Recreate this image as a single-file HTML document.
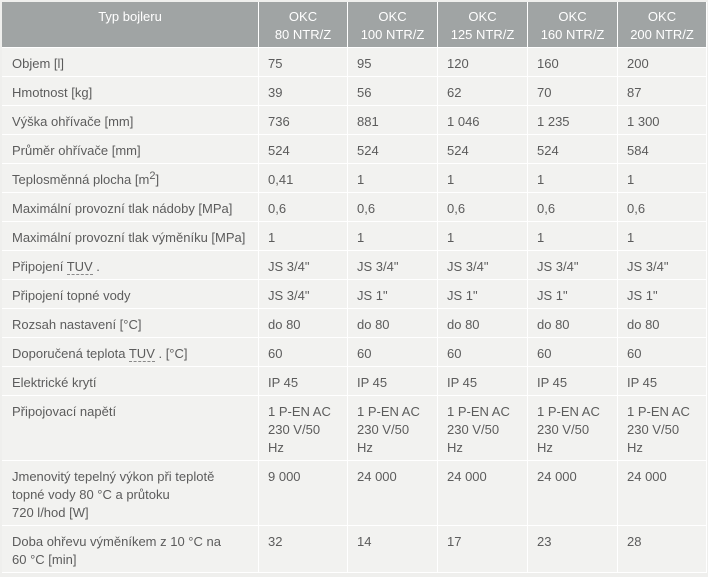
<!DOCTYPE html>
<html>
<head>
<meta charset="utf-8">
<style>
  html, body { margin:0; padding:0; }
  body { width:708px; height:577px; background:#efefed; overflow:hidden; position:relative;
         font-family:"Liberation Sans", Arial, sans-serif; font-size:13px; color:#5c5c5c; }
  table { position:absolute; left:2px; top:2px; border-collapse:separate; border-spacing:0; table-layout:fixed; width:705px; }
  td, th { border-right:1px solid #ffffff; border-bottom:1px solid #ffffff; line-height:18px; vertical-align:top;
           white-space:nowrap; overflow:hidden; box-sizing:border-box; }
  th { background:#a0a4a4; color:#ffffff; font-weight:normal; text-align:center; height:46px; padding:6px 0 0 0; }
  td { background:#f2f2f0; padding:7px 0 0 9px; height:29px; }
  td.l { padding-left:10px; }
  tr.r3 td { height:65px; }
  tr.r2 td { height:47px; }
  .abbr { border-bottom:1px dashed #8a8a8a; }
  sup { font-size:11px; line-height:0; vertical-align:5px; }
</style>
</head>
<body>
<table>
  <colgroup>
    <col style="width:257px"><col style="width:89px"><col style="width:90px"><col style="width:90px"><col style="width:90px"><col style="width:89px">
  </colgroup>
  <tr>
    <th>Typ bojleru</th>
    <th>OKC<br>80 NTR/Z</th>
    <th>OKC<br>100 NTR/Z</th>
    <th>OKC<br>125 NTR/Z</th>
    <th>OKC<br>160 NTR/Z</th>
    <th>OKC<br>200 NTR/Z</th>
  </tr>
  <tr><td class="l">Objem [l]</td><td>75</td><td>95</td><td>120</td><td>160</td><td>200</td></tr>
  <tr><td class="l">Hmotnost [kg]</td><td>39</td><td>56</td><td>62</td><td>70</td><td>87</td></tr>
  <tr><td class="l">Výška ohřívače [mm]</td><td>736</td><td>881</td><td>1 046</td><td>1 235</td><td>1 300</td></tr>
  <tr><td class="l">Průměr ohřívače [mm]</td><td>524</td><td>524</td><td>524</td><td>524</td><td>584</td></tr>
  <tr><td class="l">Teplosměnná plocha [m<sup>2</sup>]</td><td>0,41</td><td>1</td><td>1</td><td>1</td><td>1</td></tr>
  <tr><td class="l">Maximální provozní tlak nádoby [MPa]</td><td>0,6</td><td>0,6</td><td>0,6</td><td>0,6</td><td>0,6</td></tr>
  <tr><td class="l">Maximální provozní tlak výměníku [MPa]</td><td>1</td><td>1</td><td>1</td><td>1</td><td>1</td></tr>
  <tr><td class="l">Připojení <span class="abbr">TUV</span> .</td><td>JS 3/4"</td><td>JS 3/4"</td><td>JS 3/4"</td><td>JS 3/4"</td><td>JS 3/4"</td></tr>
  <tr><td class="l">Připojení topné vody</td><td>JS 3/4"</td><td>JS 1"</td><td>JS 1"</td><td>JS 1"</td><td>JS 1"</td></tr>
  <tr><td class="l">Rozsah nastavení [°C]</td><td>do 80</td><td>do 80</td><td>do 80</td><td>do 80</td><td>do 80</td></tr>
  <tr><td class="l">Doporučená teplota <span class="abbr">TUV</span> . [°C]</td><td>60</td><td>60</td><td>60</td><td>60</td><td>60</td></tr>
  <tr><td class="l">Elektrické krytí</td><td>IP 45</td><td>IP 45</td><td>IP 45</td><td>IP 45</td><td>IP 45</td></tr>
  <tr class="r3"><td class="l">Připojovací napětí</td>
    <td>1 P-EN AC<br>230 V/50<br>Hz</td><td>1 P-EN AC<br>230 V/50<br>Hz</td><td>1 P-EN AC<br>230 V/50<br>Hz</td><td>1 P-EN AC<br>230 V/50<br>Hz</td><td>1 P-EN AC<br>230 V/50<br>Hz</td></tr>
  <tr class="r3"><td class="l">Jmenovitý tepelný výkon při teplotě<br>topné vody 80 °C a průtoku<br>720 l/hod [W]</td>
    <td>9 000</td><td>24 000</td><td>24 000</td><td>24 000</td><td>24 000</td></tr>
  <tr class="r2"><td class="l">Doba ohřevu výměníkem z 10 °C na<br>60 °C [min]</td>
    <td>32</td><td>14</td><td>17</td><td>23</td><td>28</td></tr>
</table>
</body>
</html>
